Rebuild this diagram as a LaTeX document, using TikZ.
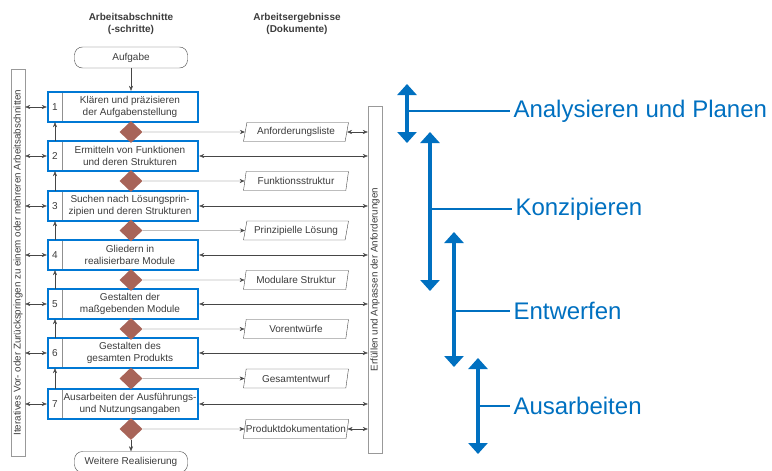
\documentclass[tikz,border=0pt]{standalone}
\usepackage{fontspec}
\setmainfont{Liberation Sans}
\usepackage{tikz}
\usetikzlibrary{arrows.meta,positioning,shapes.geometric,calc}
\definecolor{stepblue}{RGB}{0,120,212}
\definecolor{phaseblue}{RGB}{0,112,192}
\definecolor{gatered}{RGB}{168,100,88}
\definecolor{linegray}{RGB}{70,70,70}
\definecolor{textgray}{RGB}{60,60,60}
\tikzset{
  stepbox/.style={draw=stepblue, line width=2.4pt, minimum width=150pt, minimum height=30pt, inner sep=0pt},
  steptext/.style={text=textgray, font=\fontsize{10}{12.5}\selectfont, align=center, inner sep=0pt},
  stepnum/.style={text=textgray, font=\fontsize{10}{12}\selectfont, minimum width=14pt, minimum height=30pt, inner sep=0pt},
  sepline/.style={draw=linegray!60, thin},
  gate/.style={diamond, fill=gatered, minimum width=23pt, minimum height=22pt, inner sep=0pt},
  doc/.style={trapezium, trapezium left angle=70, trapezium right angle=110, trapezium stretches body,
    draw=linegray, thin, fill=white, minimum width=105pt, minimum height=19pt, inner xsep=0pt, inner ysep=0pt,
    text=textgray, font=\fontsize{10}{12}\selectfont},
  terminal/.style={draw=linegray, thin, rounded corners=8pt, minimum width=113pt, minimum height=21pt,
    text=textgray, font=\fontsize{10}{12}\selectfont},
  sidebar/.style={draw=linegray!55, thin, fill=white, inner sep=0pt, minimum width=14pt,
    text=textgray, font=\fontsize{9.8}{11}\selectfont},
  head/.style={text=textgray, font=\bfseries\fontsize{10}{12}\selectfont, align=center},
  flow/.style={draw=linegray, thin, -{Stealth[length=5pt,width=4pt]}},
  both/.style={draw=linegray, thin, {Stealth[length=5pt,width=4pt]}-{Stealth[length=5pt,width=4pt]}},
  phase/.style={draw=phaseblue, line width=4.5pt, {Triangle[width=19pt,length=11pt]}-{Triangle[width=19pt,length=11pt]}},
  tick/.style={draw=phaseblue, line width=1.1pt},
  phaselabel/.style={text=phaseblue, font=\fontsize{24}{28}\selectfont, anchor=west},
}
\begin{document}
\begin{tikzpicture}[x=1pt, y=-1pt]
    \useasboundingbox (0,0) rectangle (772,471);

    % Column headers
    \node[head] (hsteps) at (131,24) {Arbeitsabschnitte\\(-schritte)};
    \node[head] (hdocs) at (297,24) {Arbeitsergebnisse\\(Dokumente)};

    % Side bars
    \node[sidebar, minimum height=387pt] (lbar) at (18,262.5)
      {\rotatebox{90}{Iteratives Vor- oder Zurückspringen zu einem oder mehreren Arbeitsabschnitten}};
    \node[sidebar, minimum height=347pt] (rbar) at (375,279.5)
      {\rotatebox{90}{Erfüllen und Anpassen der Anforderungen}};

    % Start and end
    \node[terminal] (task) at (131,57.5) {Aufgabe};
    \node[terminal] (done) at (131,462) {Weitere Realisierung};

    % Step numbers and texts
    \node[stepnum] (n1) at (55,107) {1};
    \node[stepnum] (n2) at (55,156) {2};
    \node[stepnum] (n3) at (55,206) {3};
    \node[stepnum] (n4) at (55,255) {4};
    \node[stepnum] (n5) at (55,304) {5};
    \node[stepnum] (n6) at (55,353) {6};
    \node[stepnum] (n7) at (55,404) {7};
    \draw[sepline] (n1.north east) -- (n1.south east);
    \draw[sepline] (n2.north east) -- (n2.south east);
    \draw[sepline] (n3.north east) -- (n3.south east);
    \draw[sepline] (n4.north east) -- (n4.south east);
    \draw[sepline] (n5.north east) -- (n5.south east);
    \draw[sepline] (n6.north east) -- (n6.south east);
    \draw[sepline] (n7.north east) -- (n7.south east);
    \node[steptext] (t1) at (130,107) {Klären und präzisieren\\der Aufgabenstellung};
    \node[steptext] (t2) at (130,156) {Ermitteln von Funktionen\\und deren Strukturen};
    \node[steptext] (t3) at (130,206) {Suchen nach Lösungsprin-\\zipien und deren Strukturen};
    \node[steptext] (t4) at (130,255) {Gliedern in\\realisierbare Module};
    \node[steptext] (t5) at (130,304) {Gestalten der\\maßgebenden Module};
    \node[steptext] (t6) at (130,353) {Gestalten des\\gesamten Produkts};
    \node[steptext] (t7) at (130,404) {Ausarbeiten der Ausführungs-\\und Nutzungsangaben};

    % Step boxes
    \node[stepbox] (s1) at (123,107) {};
    \node[stepbox] (s2) at (123,156) {};
    \node[stepbox] (s3) at (123,206) {};
    \node[stepbox] (s4) at (123,255) {};
    \node[stepbox] (s5) at (123,304) {};
    \node[stepbox] (s6) at (123,353) {};
    \node[stepbox] (s7) at (123,404) {};

    % Decision gates
    \node[gate] (g1) at (131,132) {};
    \node[gate] (g2) at (131,181) {};
    \node[gate] (g3) at (131,230.5) {};
    \node[gate] (g4) at (131,280) {};
    \node[gate] (g5) at (131,329) {};
    \node[gate] (g6) at (131,378.5) {};
    \node[gate] (g7) at (131,429) {};

    % Documents
    \node[doc] (d1) at (296,132) {Anforderungsliste};
    \node[doc] (d2) at (296,181) {Funktionsstruktur};
    \node[doc] (d3) at (296,230.5) {Prinzipielle Lösung};
    \node[doc] (d4) at (296,280) {Modulare Struktur};
    \node[doc] (d5) at (296,329) {Vorentwürfe};
    \node[doc] (d6) at (296,378.5) {Gesamtentwurf};
    \node[doc] (d7) at (296,429) {Produktdokumentation};

    % Main flow
    \draw[flow] (task.south) -- (task.south |- s1.north);
    \draw[flow] (g7) -- (done);
    \draw[flow] (g1) -- (d1);
    \draw[flow] (g2) -- (d2);
    \draw[flow] (g3) -- (d3);
    \draw[flow] (g4) -- (d4);
    \draw[flow] (g5) -- (d5);
    \draw[flow] (g6) -- (d6);
    \draw[flow] (g7) -- (d7);

    % Stepping back
    \draw[flow] (n2.north) -- (n1.south);
    \draw[flow] (n3.north) -- (n2.south);
    \draw[flow] (n4.north) -- (n3.south);
    \draw[flow] (n5.north) -- (n4.south);
    \draw[flow] (n6.north) -- (n5.south);
    \draw[flow] (n7.north) -- (n6.south);

    % Links to the side bars
    \draw[both] (lbar.east |- s1.west) -- (s1.west);
    \draw[both] (lbar.east |- s2.west) -- (s2.west);
    \draw[both] (lbar.east |- s3.west) -- (s3.west);
    \draw[both] (lbar.east |- s4.west) -- (s4.west);
    \draw[both] (lbar.east |- s5.west) -- (s5.west);
    \draw[both] (lbar.east |- s6.west) -- (s6.west);
    \draw[both] (lbar.east |- s7.west) -- (s7.west);
    \draw[both] (s2.east) -- (s2.east -| rbar.west);
    \draw[both] (s3.east) -- (s3.east -| rbar.west);
    \draw[both] (s4.east) -- (s4.east -| rbar.west);
    \draw[both] (s5.east) -- (s5.east -| rbar.west);
    \draw[both] (s6.east) -- (s6.east -| rbar.west);
    \draw[both] (s7.east) -- (s7.east -| rbar.west);
    \draw[both] (d1.east) -- (d1.east -| rbar.west);
    \draw[both] (d7.east) -- (d7.east -| rbar.west);

    % Phases
    \coordinate (p1a) at (407,84);  \coordinate (p1b) at (407,143);
    \coordinate (p2a) at (430,132); \coordinate (p2b) at (430,291);
    \coordinate (p3a) at (454,232); \coordinate (p3b) at (454,367);
    \coordinate (p4a) at (478,358); \coordinate (p4b) at (478,454);
    \draw[phase] (p1a) -- (p1b);
    \draw[phase] (p2a) -- (p2b);
    \draw[phase] (p3a) -- (p3b);
    \draw[phase] (p4a) -- (p4b);
    \node[phaselabel] (l1) at (510,111) {Analysieren und Planen};
    \node[phaselabel] (l2) at (512,209) {Konzipieren};
    \node[phaselabel] (l3) at (510,311) {Entwerfen};
    \node[phaselabel] (l4) at (510,406) {Ausarbeiten};
    \draw[tick] (p1a |- l1.west) -- (l1.west);
    \draw[tick] (p2a |- l2.west) -- (l2.west);
    \draw[tick] (p3a |- l3.west) -- (l3.west);
    \draw[tick] (p4a |- l4.west) -- (l4.west);
\end{tikzpicture}
\end{document}
